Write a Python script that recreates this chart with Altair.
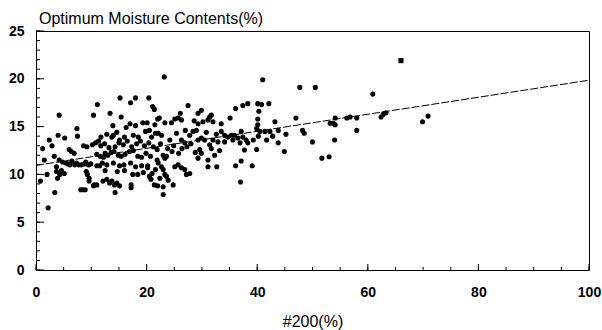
import altair as alt
import pandas as pd

chart_title = "Optimum Moisture Contents(%)"
x_axis_title = "#200(%)"

x_label_values = [0, 20, 40, 60, 80, 100]
y_label_values = [0, 5, 10, 15, 20, 25]
x_minor_ticks = [0, 5, 10, 15, 20, 25, 30, 35, 40, 45, 50, 55, 60, 65, 70, 75, 80, 85, 90, 95, 100]
x_major_ticks = [0, 20, 40, 60, 80, 100]
y_minor_ticks = list(range(0, 26))
y_major_ticks = [0, 5, 10, 15, 20, 25]

# points, grouped by #200 range
group_a = [
    (0.8, 9.3), (1.2, 12.7), (1.5, 11.5), (2.0, 10.0), (2.2, 6.5), (2.4, 13.6), (2.9, 13.0),
    (3.3, 11.9), (3.4, 8.1), (3.7, 10.3), (3.9, 9.6), (4.0, 14.1), (4.2, 16.2), (4.2, 11.5),
    (4.3, 10.0), (4.8, 11.3), (5.1, 10.1), (5.2, 13.8), (5.4, 11.2), (5.8, 11.1), (6.1, 11.0),
    (6.0, 12.6), (6.4, 12.4), (6.9, 12.2), (7.0, 11.0), (7.4, 14.8), (7.5, 14.0), (7.7, 11.0),
    (8.1, 8.4), (8.2, 11.0), (8.5, 8.4), (8.8, 11.1), (8.9, 8.4), (9.0, 11.3), (9.2, 12.9),
    (9.3, 10.0), (9.5, 11.0), (9.6, 9.6), (9.6, 9.3), (9.9, 11.1), (10.2, 13.1), (10.4, 16.2),
    (10.5, 8.9), (10.8, 13.3), (11.0, 8.9), (11.1, 17.3), (11.3, 13.5), (9.1, 10.3), (8.6, 13.0),
    (4.6, 10.4), (3.7, 10.8), (11.0, 10.9), (10.4, 8.8), (6.5, 11.4), (7.3, 11.2),
]
group_b = [
    (11.75, 13.9), (12.1, 9.3), (12.5, 12.2), (12.8, 9.5), (13.3, 9.1), (13.4, 16.4), (13.7, 9.3),
    (13.7, 13.9), (14.0, 14.1), (14.2, 8.9), (14.3, 8.1), (14.6, 9.1), (15.1, 13.6), (15.1, 8.8),
    (15.2, 18.0), (15.4, 16.0), (17.0, 15.3), (17.1, 17.5), (17.2, 8.9), (17.2, 8.6), (17.5, 10.0),
    (17.6, 14.1), (18.0, 18.0), (18.4, 10.0), (19.3, 15.4), (19.8, 14.5), (20.4, 18.0), (20.5, 14.6),
    (20.5, 9.8), (20.8, 9.5), (21.1, 17.1), (21.4, 16.8), (21.4, 8.9), (21.6, 14.3), (21.6, 10.5),
    (22.0, 15.8), (22.0, 8.8), (22.1, 14.3), (22.1, 11.2), (22.3, 15.9), (22.7, 14.1), (22.7, 10.8),
    (23.0, 10.5), (23.0, 8.7), (23.0, 7.9), (23.0, 12.0), (23.2, 20.2), (23.3, 15.4), (23.3, 11.7),
    (23.3, 10.0), (23.6, 11.9), (23.6, 9.8), (23.9, 9.4),
    (11.0, 12.1), (11.6, 11.9), (12.2, 11.8), (13.0, 12.0), (13.6, 12.3), (14.1, 12.4), (14.9, 12.0),
    (15.4, 11.9), (16.1, 12.1), (16.9, 12.4), (17.6, 12.5), (18.4, 11.9), (19.1, 11.8), (19.9, 12.2),
    (11.5, 10.9), (12.0, 11.2), (12.8, 11.0), (14.0, 11.2), (15.1, 10.9), (15.9, 11.0), (17.1, 11.2),
    (18.0, 10.8), (19.1, 10.9), (20.2, 10.9),
    (11.7, 13.0), (12.4, 13.2), (13.2, 12.8), (14.3, 12.9), (15.0, 13.3), (15.8, 13.1), (16.5, 13.5),
    (17.3, 12.9), (18.2, 13.2), (18.9, 13.5), (19.6, 13.0), (20.4, 13.3), (21.2, 12.9), (21.9, 12.6),
    (22.5, 13.2),
    (12.8, 14.2), (14.6, 14.4), (16.0, 13.9), (18.5, 13.9), (20.9, 13.9),
    (13.9, 15.1), (16.3, 14.9), (18.0, 15.1), (20.1, 15.4), (21.5, 15.2),
    (16.0, 10.4), (19.4, 10.2), (21.0, 10.1), (22.4, 9.6), (14.7, 10.3), (12.5, 10.4), (20.2, 10.7),
    (21.9, 11.5), (20.7, 11.9),
]
group_c = [
    (24.2, 13.6), (24.5, 15.4), (24.8, 8.9), (25.1, 15.8), (25.7, 15.9), (25.7, 11.0), (26.1, 16.4),
    (26.3, 13.6), (26.3, 10.7), (26.3, 15.7), (26.9, 13.3), (26.9, 10.5), (27.2, 10.0), (27.5, 17.2),
    (27.8, 14.1), (27.8, 10.1), (28.4, 14.5), (29.0, 14.6), (29.3, 16.4), (29.3, 15.3), (29.3, 13.6),
    (29.3, 11.7), (29.6, 12.6), (29.9, 16.7), (29.9, 13.8), (29.9, 12.2), (30.2, 15.5), (30.5, 13.6),
    (31.1, 15.7), (31.1, 11.5), (31.1, 10.8), (31.4, 16.0), (31.7, 16.2), (31.7, 12.7), (32.0, 15.5),
    (32.0, 13.6), (32.3, 12.0), (32.7, 10.8), (32.9, 13.4), (33.5, 15.3), (23.8, 12.7), (24.6, 12.4),
    (25.8, 12.2), (26.4, 12.7), (25.1, 10.8), (24.9, 13.0), (27.3, 12.9), (28.0, 13.2), (28.8, 12.3),
    (25.4, 14.3), (27.0, 14.6), (28.6, 15.6), (30.8, 14.4), (31.4, 13.1), (32.6, 14.2), (33.2, 12.5),
]
group_d = [
    (33.5, 14.5), (34.1, 14.1), (34.1, 13.4), (34.7, 13.9), (35.3, 14.1), (35.9, 14.1), (36.5, 13.8),
    (37.1, 14.5), (37.4, 13.9), (38.0, 13.6), (39.9, 14.8), (40.5, 14.5), (41.4, 14.5), (41.7, 13.6),
    (42.3, 14.5), (43.8, 14.6), (39.3, 13.6), (38.3, 13.3), (43.8, 13.3), (37.7, 12.55), (39.9, 12.6),
    (44.9, 12.4), (37.1, 11.4), (36.1, 10.9), (39.1, 10.9), (37.0, 9.2), (41.0, 19.9), (36.1, 16.9),
    (37.4, 17.2), (38.3, 17.4), (40.1, 17.4), (40.8, 17.3), (42.1, 17.4), (40.3, 16.6), (35.1, 15.9),
    (40.1, 15.8), (40.1, 15.2), (43.2, 15.5), (40.2, 14.0), (42.8, 14.0), (36.9, 13.3), (35.6, 13.6),
    (45.2, 14.2),
]
group_e = [
    (47.7, 19.1), (50.5, 19.1), (47.0, 15.9), (48.2, 14.6), (48.5, 14.3), (50.0, 13.4), (51.7, 11.7),
    (53.0, 11.85), (53.2, 15.35), (53.8, 15.35), (54.1, 15.9), (54.1, 15.2), (54.0, 13.6), (56.2, 15.9),
    (56.8, 16.0), (58.0, 15.9), (58.0, 14.6), (60.9, 18.4), (62.4, 16.0), (62.8, 16.3), (63.3, 16.45),
    (69.9, 15.5), (70.9, 16.1),
]
square_point = [(66.0, 21.9)]

fit_x = [0, 100]
fit_y = [10.95, 19.85]

points = pd.DataFrame(group_a + group_b + group_c + group_d + group_e, columns=["x", "y"])
squares = pd.DataFrame(square_point, columns=["x", "y"])
fit = pd.DataFrame({"x": fit_x, "y": fit_y})

xs = alt.Scale(domain=[0, 100], nice=False, zero=False)
ys = alt.Scale(domain=[0, 25], nice=False, zero=False)

font = "Liberation Sans"

x_axis = alt.Axis(values=x_label_values, title=x_axis_title, labelPadding=15, titlePadding=14,
                  labelFlush=False)
y_axis = alt.Axis(values=y_label_values, title=None, labelPadding=12, labelFlush=False)

scatter = alt.Chart(points).mark_circle(size=26, color="black", opacity=1).encode(
    x=alt.X("x:Q", scale=xs, axis=x_axis),
    y=alt.Y("y:Q", scale=ys, axis=y_axis),
)

sq = alt.Chart(squares).mark_square(size=26, color="black", opacity=1).encode(
    x=alt.X("x:Q", scale=xs, axis=x_axis),
    y=alt.Y("y:Q", scale=ys, axis=y_axis),
)

line = alt.Chart(fit).mark_line(color="black", strokeWidth=1, strokeDash=[8, 2]).encode(
    x=alt.X("x:Q", scale=xs, axis=x_axis),
    y=alt.Y("y:Q", scale=ys, axis=y_axis),
)

xminor = alt.Chart(pd.DataFrame({"v": x_minor_ticks})).mark_rule(color="black", strokeWidth=1).encode(
    x=alt.X("v:Q", scale=xs, axis=x_axis), y=alt.value(239), y2=alt.value(236))
xmajor = alt.Chart(pd.DataFrame({"v": x_major_ticks})).mark_rule(color="black", strokeWidth=1).encode(
    x=alt.X("v:Q", scale=xs, axis=x_axis), y=alt.value(239), y2=alt.value(233))
yminor = alt.Chart(pd.DataFrame({"v": y_minor_ticks})).mark_rule(color="black", strokeWidth=1).encode(
    y=alt.Y("v:Q", scale=ys, axis=y_axis), x=alt.value(0), x2=alt.value(4))
ymajor = alt.Chart(pd.DataFrame({"v": y_major_ticks})).mark_rule(color="black", strokeWidth=1).encode(
    y=alt.Y("v:Q", scale=ys, axis=y_axis), x=alt.value(0), x2=alt.value(8))

chart = alt.layer(scatter, sq, line, xminor, xmajor, yminor, ymajor).properties(
    width=553,
    height=239,
    padding={"left": 36, "top": 31, "right": 13, "bottom": 60},
    autosize=alt.AutoSizeParams(type="none"),
    title=alt.TitleParams(
        text=chart_title, anchor="start", frame="group", dx=3, dy=3, offset=0,
        font=font, fontSize=16, fontWeight="normal", color="black"),
    background="white",
).configure_view(
    stroke="black", strokeWidth=1
).configure_axis(
    domain=False, ticks=False, tickSize=0, grid=False,
    labelFont=font, labelFontSize=14, labelFontWeight="bold", labelColor="black",
    titleFont=font, titleFontSize=16, titleFontWeight="normal", titleColor="black",
)

chart.save("out.html", embed_options={"renderer": "svg", "actions": False})
